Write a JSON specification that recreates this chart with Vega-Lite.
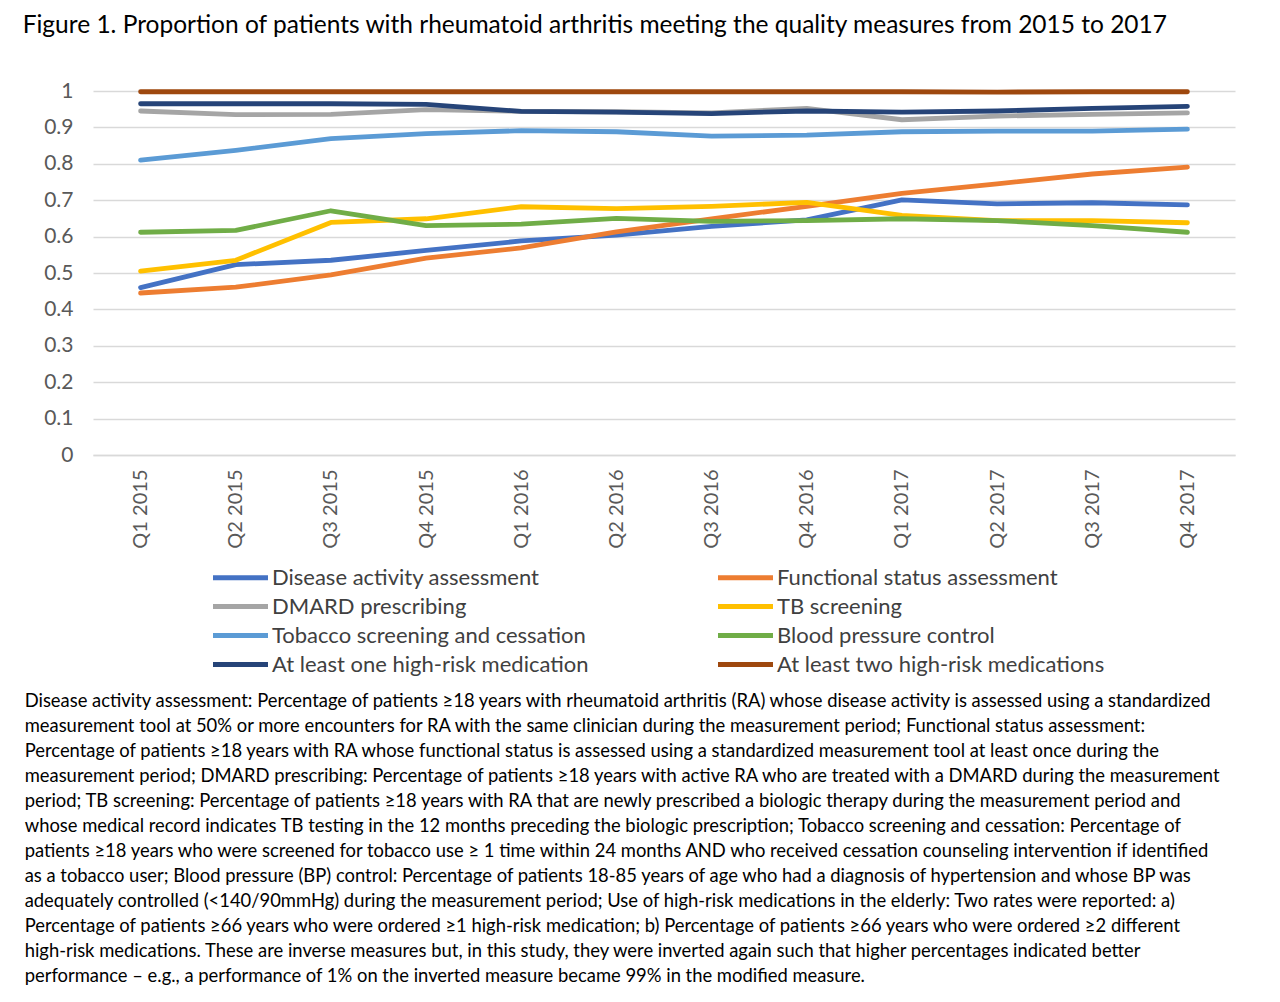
{
  "$schema": "https://vega.github.io/schema/vega-lite/v6.json",
  "background": "white",
  "padding": {"left": 22, "top": 12, "right": 5, "bottom": 5},
  "title": {
    "text": [
      "Disease activity assessment: Percentage of patients ≥18 years with rheumatoid arthritis (RA) whose disease activity is assessed using a standardized",
      "measurement tool at 50% or more encounters for RA with the same clinician during the measurement period; Functional status assessment:",
      "Percentage of patients ≥18 years with RA whose functional status is assessed using a standardized measurement tool at least once during the",
      "measurement period; DMARD prescribing: Percentage of patients ≥18 years with active RA who are treated with a DMARD during the measurement",
      "period; TB screening: Percentage of patients ≥18 years with RA that are newly prescribed a biologic therapy during the measurement period and",
      "whose medical record indicates TB testing in the 12 months preceding the biologic prescription; Tobacco screening and cessation: Percentage of",
      "patients ≥18 years who were screened for tobacco use ≥ 1 time within 24 months AND who received cessation counseling intervention if identified",
      "as a tobacco user; Blood pressure (BP) control: Percentage of patients 18-85 years of age who had a diagnosis of hypertension and whose BP was",
      "adequately controlled (<140/90mmHg) during the measurement period; Use of high-risk medications in the elderly: Two rates were reported: a)",
      "Percentage of patients ≥66 years who were ordered ≥1 high-risk medication; b) Percentage of patients ≥66 years who were ordered ≥2 different",
      "high-risk medications. These are inverse measures but, in this study, they were inverted again such that higher percentages indicated better",
      "performance – e.g., a performance of 1% on the inverted measure became 99% in the modified measure."
    ],
    "orient": "bottom",
    "anchor": "start",
    "frame": "bounds",
    "font": "Lato",
    "fontSize": 18.4,
    "fontWeight": "normal",
    "color": "black",
    "lineHeight": 25,
    "offset": 16,
    "dx": 2
  },
  "config": {
    "font": "Lato",
    "view": {"stroke": null},
    "legend": {"layout": {"bottom": {"anchor": "middle"}}}
  },
  "vconcat": [
    {
      "width": 1142,
      "height": 364,
      "title": {
        "text": "Figure 1. Proportion of patients with rheumatoid arthritis meeting the quality measures from 2015 to 2017",
        "anchor": "start",
        "frame": "bounds",
        "font": "Lato",
        "fontSize": 24.5,
        "fontWeight": "normal",
        "color": "black",
        "offset": 42,
        "dx": -21
      },
      "data": {
        "values": [
          {"q": "Q1 2015", "m": "Disease activity assessment", "v": 0.460},
          {"q": "Q2 2015", "m": "Disease activity assessment", "v": 0.523},
          {"q": "Q3 2015", "m": "Disease activity assessment", "v": 0.535},
          {"q": "Q4 2015", "m": "Disease activity assessment", "v": 0.562},
          {"q": "Q1 2016", "m": "Disease activity assessment", "v": 0.588},
          {"q": "Q2 2016", "m": "Disease activity assessment", "v": 0.604},
          {"q": "Q3 2016", "m": "Disease activity assessment", "v": 0.628},
          {"q": "Q4 2016", "m": "Disease activity assessment", "v": 0.646},
          {"q": "Q1 2017", "m": "Disease activity assessment", "v": 0.701},
          {"q": "Q2 2017", "m": "Disease activity assessment", "v": 0.690},
          {"q": "Q3 2017", "m": "Disease activity assessment", "v": 0.693},
          {"q": "Q4 2017", "m": "Disease activity assessment", "v": 0.687},

          {"q": "Q1 2015", "m": "Functional status assessment", "v": 0.445},
          {"q": "Q2 2015", "m": "Functional status assessment", "v": 0.461},
          {"q": "Q3 2015", "m": "Functional status assessment", "v": 0.495},
          {"q": "Q4 2015", "m": "Functional status assessment", "v": 0.541},
          {"q": "Q1 2016", "m": "Functional status assessment", "v": 0.569},
          {"q": "Q2 2016", "m": "Functional status assessment", "v": 0.613},
          {"q": "Q3 2016", "m": "Functional status assessment", "v": 0.649},
          {"q": "Q4 2016", "m": "Functional status assessment", "v": 0.683},
          {"q": "Q1 2017", "m": "Functional status assessment", "v": 0.719},
          {"q": "Q2 2017", "m": "Functional status assessment", "v": 0.745},
          {"q": "Q3 2017", "m": "Functional status assessment", "v": 0.772},
          {"q": "Q4 2017", "m": "Functional status assessment", "v": 0.791},

          {"q": "Q1 2015", "m": "DMARD prescribing", "v": 0.945},
          {"q": "Q2 2015", "m": "DMARD prescribing", "v": 0.935},
          {"q": "Q3 2015", "m": "DMARD prescribing", "v": 0.936},
          {"q": "Q4 2015", "m": "DMARD prescribing", "v": 0.949},
          {"q": "Q1 2016", "m": "DMARD prescribing", "v": 0.944},
          {"q": "Q2 2016", "m": "DMARD prescribing", "v": 0.943},
          {"q": "Q3 2016", "m": "DMARD prescribing", "v": 0.940},
          {"q": "Q4 2016", "m": "DMARD prescribing", "v": 0.952},
          {"q": "Q1 2017", "m": "DMARD prescribing", "v": 0.921},
          {"q": "Q2 2017", "m": "DMARD prescribing", "v": 0.931},
          {"q": "Q3 2017", "m": "DMARD prescribing", "v": 0.936},
          {"q": "Q4 2017", "m": "DMARD prescribing", "v": 0.940},

          {"q": "Q1 2015", "m": "TB screening", "v": 0.505},
          {"q": "Q2 2015", "m": "TB screening", "v": 0.535},
          {"q": "Q3 2015", "m": "TB screening", "v": 0.639},
          {"q": "Q4 2015", "m": "TB screening", "v": 0.649},
          {"q": "Q1 2016", "m": "TB screening", "v": 0.682},
          {"q": "Q2 2016", "m": "TB screening", "v": 0.677},
          {"q": "Q3 2016", "m": "TB screening", "v": 0.683},
          {"q": "Q4 2016", "m": "TB screening", "v": 0.694},
          {"q": "Q1 2017", "m": "TB screening", "v": 0.658},
          {"q": "Q2 2017", "m": "TB screening", "v": 0.644},
          {"q": "Q3 2017", "m": "TB screening", "v": 0.644},
          {"q": "Q4 2017", "m": "TB screening", "v": 0.638},

          {"q": "Q1 2015", "m": "Tobacco screening and cessation", "v": 0.810},
          {"q": "Q2 2015", "m": "Tobacco screening and cessation", "v": 0.837},
          {"q": "Q3 2015", "m": "Tobacco screening and cessation", "v": 0.869},
          {"q": "Q4 2015", "m": "Tobacco screening and cessation", "v": 0.883},
          {"q": "Q1 2016", "m": "Tobacco screening and cessation", "v": 0.891},
          {"q": "Q2 2016", "m": "Tobacco screening and cessation", "v": 0.888},
          {"q": "Q3 2016", "m": "Tobacco screening and cessation", "v": 0.876},
          {"q": "Q4 2016", "m": "Tobacco screening and cessation", "v": 0.879},
          {"q": "Q1 2017", "m": "Tobacco screening and cessation", "v": 0.888},
          {"q": "Q2 2017", "m": "Tobacco screening and cessation", "v": 0.890},
          {"q": "Q3 2017", "m": "Tobacco screening and cessation", "v": 0.890},
          {"q": "Q4 2017", "m": "Tobacco screening and cessation", "v": 0.895},

          {"q": "Q1 2015", "m": "Blood pressure control", "v": 0.612},
          {"q": "Q2 2015", "m": "Blood pressure control", "v": 0.617},
          {"q": "Q3 2015", "m": "Blood pressure control", "v": 0.671},
          {"q": "Q4 2015", "m": "Blood pressure control", "v": 0.630},
          {"q": "Q1 2016", "m": "Blood pressure control", "v": 0.634},
          {"q": "Q2 2016", "m": "Blood pressure control", "v": 0.650},
          {"q": "Q3 2016", "m": "Blood pressure control", "v": 0.642},
          {"q": "Q4 2016", "m": "Blood pressure control", "v": 0.644},
          {"q": "Q1 2017", "m": "Blood pressure control", "v": 0.649},
          {"q": "Q2 2017", "m": "Blood pressure control", "v": 0.644},
          {"q": "Q3 2017", "m": "Blood pressure control", "v": 0.630},
          {"q": "Q4 2017", "m": "Blood pressure control", "v": 0.612},

          {"q": "Q1 2015", "m": "At least one high-risk medication", "v": 0.965},
          {"q": "Q2 2015", "m": "At least one high-risk medication", "v": 0.965},
          {"q": "Q3 2015", "m": "At least one high-risk medication", "v": 0.965},
          {"q": "Q4 2015", "m": "At least one high-risk medication", "v": 0.963},
          {"q": "Q1 2016", "m": "At least one high-risk medication", "v": 0.944},
          {"q": "Q2 2016", "m": "At least one high-risk medication", "v": 0.942},
          {"q": "Q3 2016", "m": "At least one high-risk medication", "v": 0.938},
          {"q": "Q4 2016", "m": "At least one high-risk medication", "v": 0.945},
          {"q": "Q1 2017", "m": "At least one high-risk medication", "v": 0.942},
          {"q": "Q2 2017", "m": "At least one high-risk medication", "v": 0.945},
          {"q": "Q3 2017", "m": "At least one high-risk medication", "v": 0.952},
          {"q": "Q4 2017", "m": "At least one high-risk medication", "v": 0.958},

          {"q": "Q1 2015", "m": "At least two high-risk medications", "v": 0.998},
          {"q": "Q2 2015", "m": "At least two high-risk medications", "v": 0.998},
          {"q": "Q3 2015", "m": "At least two high-risk medications", "v": 0.998},
          {"q": "Q4 2015", "m": "At least two high-risk medications", "v": 0.998},
          {"q": "Q1 2016", "m": "At least two high-risk medications", "v": 0.998},
          {"q": "Q2 2016", "m": "At least two high-risk medications", "v": 0.998},
          {"q": "Q3 2016", "m": "At least two high-risk medications", "v": 0.998},
          {"q": "Q4 2016", "m": "At least two high-risk medications", "v": 0.998},
          {"q": "Q1 2017", "m": "At least two high-risk medications", "v": 0.998},
          {"q": "Q2 2017", "m": "At least two high-risk medications", "v": 0.997},
          {"q": "Q3 2017", "m": "At least two high-risk medications", "v": 0.998},
          {"q": "Q4 2017", "m": "At least two high-risk medications", "v": 0.998}
        ]
      },
      "mark": {"type": "line", "strokeWidth": 4.8, "strokeCap": "round", "strokeJoin": "round"},
      "encoding": {
        "x": {
          "field": "q",
          "type": "ordinal",
          "sort": null,
          "scale": {"type": "point", "padding": 0.5},
          "axis": {
            "title": null,
            "labelAngle": -90,
            "labelFontSize": 20,
            "labelColor": "#595959",
            "labelPadding": 14,
            "ticks": false,
            "domainColor": "#d9d9d9",
            "domainWidth": 1.5,
            "grid": false
          }
        },
        "y": {
          "field": "v",
          "type": "quantitative",
          "scale": {"domain": [0, 1], "nice": false},
          "axis": {
            "title": null,
            "values": [0, 0.1, 0.2, 0.3, 0.4, 0.5, 0.6, 0.7, 0.8, 0.9, 1],
            "format": "~g",
            "labelFontSize": 21,
            "labelColor": "#595959",
            "labelPadding": 20,
            "ticks": false,
            "domain": false,
            "gridColor": "#d9d9d9",
            "gridWidth": 1.5
          }
        },
        "color": {
          "field": "m",
          "type": "nominal",
          "sort": null,
          "scale": {
            "domain": [
              "Disease activity assessment",
              "Functional status assessment",
              "DMARD prescribing",
              "TB screening",
              "Tobacco screening and cessation",
              "Blood pressure control",
              "At least one high-risk medication",
              "At least two high-risk medications"
            ],
            "range": ["#4472C4", "#ED7D31", "#A5A5A5", "#FFC000", "#5B9BD5", "#70AD47", "#264478", "#9E480E"]
          },
          "legend": {
            "title": null,
            "orient": "bottom",
            "columns": 2,
            "direction": "horizontal",
            "symbolType": "M-2,0H2",
            "symbolStrokeWidth": 5,
            "symbolSize": 756,
            "labelFontSize": 22,
            "labelColor": "#404040",
            "labelLimit": 600,
            "labelOffset": 15,
            "columnPadding": 119,
            "rowPadding": 1,
            "offset": 12
          }
        }
      }
    }
  ]
}
